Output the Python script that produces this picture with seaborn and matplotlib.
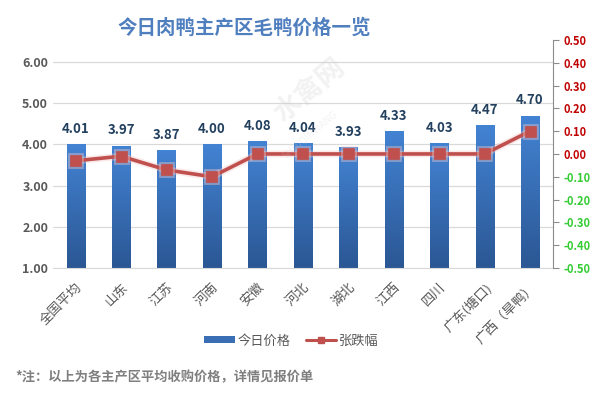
import numpy as np
import pandas as pd
import matplotlib
matplotlib.use('Agg')
import matplotlib.pyplot as plt
import matplotlib.patheffects as pe
from matplotlib.colors import LinearSegmentedColormap
from matplotlib.patches import Patch
from matplotlib.lines import Line2D
import seaborn as sns

# ================= 数据 =================
regions = ['全国平均', '山东', '江苏', '河南', '安徽', '河北', '湖北', '江西', '四川', '广东(塘口)', '广西（旱鸭）']
prices = [4.01, 3.97, 3.87, 4.00, 4.08, 4.04, 3.93, 4.33, 4.03, 4.47, 4.70]
changes = [-0.03, -0.01, -0.07, -0.10, 0.00, 0.00, 0.00, 0.00, 0.00, 0.00, 0.10]
left_ticks = [1.0, 2.0, 3.0, 4.0, 5.0, 6.0]
right_ticks = [-0.5, -0.4, -0.3, -0.2, -0.1, 0.0, 0.1, 0.2, 0.3, 0.4, 0.5]

# ================= 颜色 =================
BAR_TOP = '#4383d3'
BAR_BOTTOM = '#2b5794'
LINE_RED = '#c0504d'
GREY = '#595959'
TITLE_BLUE = '#4f7fbf'

sns.set_style('white')
plt.rcParams['font.family'] = ['Noto Sans CJK SC', 'DejaVu Sans']

df = pd.DataFrame({'地区': regions, '今日价格': prices, '涨跌幅': changes})

fig = plt.figure(figsize=(5.95, 3.95), dpi=100)
fig.patch.set_facecolor('white')
ax = fig.add_axes([0.089, 0.3215, 0.84, 0.5775])

# -------------------- 柱状图 --------------------
sns.barplot(data=df, x='地区', y='今日价格', ax=ax, color=BAR_TOP, width=0.4,
            saturation=1, zorder=2)

# 渐变填充
cmap = LinearSegmentedColormap.from_list('bar', [BAR_BOTTOM, BAR_TOP])
grad = np.linspace(0, 1, 100).reshape(-1, 1)
for p in ax.patches:
    x0, y0 = p.get_x(), p.get_y()
    w, h = p.get_width(), p.get_height()
    im = ax.imshow(grad, cmap=cmap, extent=[x0, x0 + w, 1, y0 + h], origin='lower',
                   aspect='auto', zorder=2)
    im.set_clip_path(p)
    p.set_facecolor('none')
    p.set_edgecolor('none')
ax.set_ylim(1, 6.54)
ax.set_xlim(-0.5, len(regions) - 0.5)

ax.bar_label(ax.containers[0], fmt='%.2f', padding=6, color='#23405f',
             fontsize=9.5, fontweight='bold')

ax.set_yticks(left_ticks)
ax.set_yticklabels([f'{v:.2f}' for v in left_ticks], color=GREY, fontsize=9, fontweight='bold')
ax.yaxis.grid(True, color='#d9d9d9', lw=0.9)
ax.set_axisbelow(True)
ax.tick_params(axis='both', length=0)
ax.tick_params(axis='x', pad=9)
ax.set_xlabel('')
ax.set_ylabel('')
ax.set_xticks(range(len(regions)))
ax.set_xticklabels(regions, rotation=45, ha='right', va='top', rotation_mode='anchor',
                   color=GREY, fontsize=9.5)
for s in ['top', 'left', 'right']:
    ax.spines[s].set_visible(False)
ax.spines['bottom'].set_color('#d9d9d9')

# -------------------- 涨跌幅折线 --------------------
ax2 = ax.twinx()
sns.pointplot(data=df, x='地区', y='涨跌幅', ax=ax2, color=LINE_RED, markers='s',
              markersize=6.5, linewidth=2.6)
for ln in ax2.lines:
    ln.set_markeredgecolor(LINE_RED)
    ln.set_path_effects([pe.Stroke(linewidth=5, foreground='#f3c9c8', alpha=0.4), pe.Normal()])
ax2.set_ylim(-0.5, 0.5)
ax2.set_xlim(-0.5, len(regions) - 0.5)
ax2.set_yticks(right_ticks)
ax2.set_yticklabels([f'{v:.2f}' for v in right_ticks], fontsize=8, fontweight='bold')
for lab, v in zip(ax2.get_yticklabels(), right_ticks):
    lab.set_color('#c00000' if v >= 0 else '#33cc33')
ax2.tick_params(axis='y', direction='out', length=4, width=0.8, color='#8c8c8c', pad=4)
ax2.set_ylabel('')
ax2.set_xlabel('')
for s in ['top', 'left', 'bottom']:
    ax2.spines[s].set_visible(False)
ax2.spines['right'].set_color('#8c8c8c')
ax2.spines['right'].set_linewidth(0.8)

# -------------------- 标题 / 图例 / 注释 --------------------
fig.text(0.41, 0.929, '今日肉鸭主产区毛鸭价格一览', ha='center', va='center',
         fontsize=14, fontweight='bold', color=TITLE_BLUE)

# 水印
fig.text(0.52, 0.77, '水禽网', rotation=40, ha='center', va='center', fontsize=20,
         color='#cccccc', alpha=0.25, fontweight='bold')
fig.text(0.52, 0.66, 'SHUIQINWANG', rotation=40, ha='center', va='center', fontsize=7,
         color='#cccccc', alpha=0.25)

handles = [Patch(facecolor='#3a6fb5', edgecolor='none'),
           Line2D([0], [0], color=LINE_RED, lw=2.2, marker='s', markersize=5)]
fig.legend(handles, ['今日价格', '张跌幅'], loc='center', bbox_to_anchor=(0.49, 0.137),
           ncol=2, frameon=False, fontsize=9.5, labelcolor=GREY, handlelength=2.3,
           handleheight=0.45, handletextpad=0.2, columnspacing=1.2)

fig.text(0.025, 0.046, '*注：以上为各主产区平均收购价格，详情见报价单', ha='left', va='center',
         fontsize=9.5, fontweight='bold', color='#7f7f7f')

plt.savefig('out.png', dpi=100)
